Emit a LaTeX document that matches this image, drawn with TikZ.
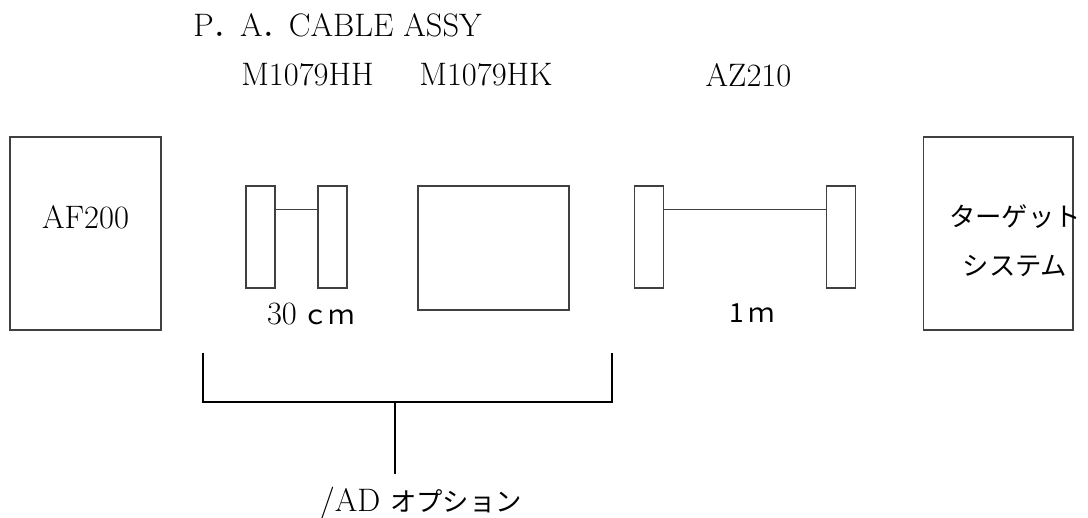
\documentclass[tikz,border=0pt]{standalone}
\usepackage{fontspec}
\newfontfamily\jp{Noto Sans CJK JP}
\usetikzlibrary{positioning, calc}

\begin{document}
\begin{tikzpicture}[x=0.02cm, y=-0.02cm,
        every node/.style={font=\fontsize{18.5}{22}\selectfont, inner sep=0pt},
        unit/.style={draw=black!75, line width=0.6pt, minimum width=3.02cm, minimum height=3.86cm},
        plug/.style={draw=black!75, line width=0.6pt, minimum width=0.58cm, minimum height=2.04cm},
        cable/.style={draw=black!75, line width=0.6pt},
        brace/.style={draw=black, line width=1.1pt}]

        \useasboundingbox (0,0) rectangle (1088,517);

        % Titles
        \node (title) at (337.5,25) {P{\jp\fontsize{15}{18}\selectfont ．}A{\jp\fontsize{15}{18}\selectfont ．}CABLE ASSY};
        \node (hhname) at (307.5,75) {M1079HH};
        \node (hkname) at (486,75) {M1079HK};
        \node (azname) at (748.5,75) {AZ210};

        % AF200
        \node[unit] (af) at (85.5,233.5) {};
        \node (afname) at ([yshift=0.33cm]af.center) {AF200};

        % M1079HH (30cm)
        \node[plug] (hhL) at (260.5,237) {};
        \node[plug] (hhR) at (332.5,237) {};
        \draw[cable] ([yshift=-0.48cm]hhL.north east) -- ([yshift=-0.48cm]hhR.north west);
        \node (hhlen) at (311,314) {30\,{\jp\fontsize{15}{18}\selectfont ｃｍ}};

        % M1079HK
        \node[unit, minimum height=2.48cm] (hk) at (493.5,248) {};

        % AZ210 (1m)
        \node[plug] (azL) at (649,237) {};
        \node[plug] (azR) at (841,237) {};
        \draw[cable] ([yshift=-0.48cm]azL.north east) -- ([yshift=-0.48cm]azR.north west);
        \node (azlen) at (752,313) {\jp\fontsize{15}{18}\selectfont 1\,ｍ};

        % Target system
        \node[unit, minimum width=3.0cm] (tg) at (998,233.5) {};
        \node[align=center, font=\jp\fontsize{15}{27.9}\selectfont] (tgname) at (1015,240.5) {ターゲット\\システム};

        % /AD option bracket
        \coordinate (brL) at (203,353);
        \coordinate (brR) at (612,353);
        \coordinate (brM) at (395,402);
        \coordinate (stem) at (395,474);
        \draw[brace] (brL) -- (brL |- brM) -- (brR |- brM) -- (brR);
        \draw[brace] (brM) -- (stem);
        \node (opt) at (421,503) {/AD {\jp\fontsize{15}{18}\selectfont オプション}};

\end{tikzpicture}
\end{document}
